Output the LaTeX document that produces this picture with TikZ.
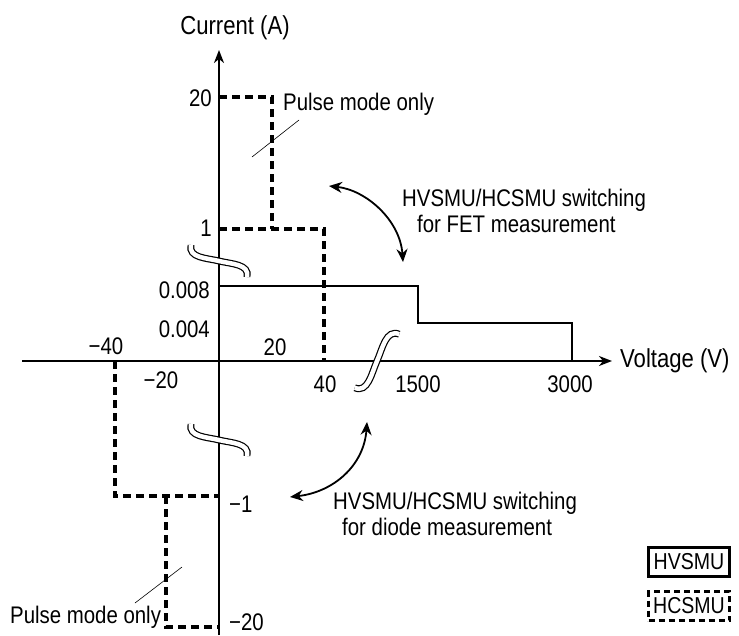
\documentclass[tikz,border=0pt]{standalone}
\usepackage{fontspec}
\setmainfont[FakeStretch=0.85]{Liberation Sans}
\usepackage{tikz}
\usetikzlibrary{arrows.meta}
\newcommand{\AxisBreak}[3][0]{
	\def\brot{#1}
	\def\bpin{#2}
	\def\bscale{#3}
	\begin{scope}[shift={(\bpin)}, rotate=\brot, scale=\bscale]
		\draw[double, double distance=4.5pt, line width=1.2pt] (-28,-16) .. controls (-31,-3) and (-12,-3) .. (0,0) .. controls (12,3) and (31,3) .. (28,16);
	\end{scope}
}

\begin{document}
\begin{tikzpicture}[x=1pt, y=-1pt, line cap=butt,
	axis/.style={line width=1.8pt, -{Stealth[length=13pt, width=10pt, inset=4pt]}},
	hvline/.style={line width=2pt},
	hcline/.style={line width=3.8pt, dash pattern=on 8pt off 5pt},
	swapto/.style={line width=1.8pt, {Stealth[length=13pt, width=11pt]}-{Stealth[length=13pt, width=11pt]}},
	leader/.style={line width=0.6pt},
	lbl/.style={font=\fontsize{24}{26}\selectfont, inner sep=0pt},
	title/.style={font=\fontsize{26}{28}\selectfont, inner sep=0pt},
	keybox/.style={font=\fontsize{23}{24}\selectfont, inner sep=0pt, minimum width=81pt, minimum height=29pt}]

	\useasboundingbox (0,0) rectangle (739,635);

	\coordinate (O) at (219,361);
	\coordinate (xstart) at (22,361);
	\coordinate (xend) at (612,361);
	\coordinate (ybot) at (219,635);
	\coordinate (ytop) at (219,50);

	% axes
	\draw[axis] (xstart) -- (xend);
	\draw[axis] (ybot) -- (ytop);

	% HVSMU
	\draw[hvline] (219,286) -- (418,286) -- (418,323) -- (572,323) -- (572,361);

	% HCSMU
	\draw[hcline] (219,97) -| (272,229);
	\draw[hcline] (219,229) -| (324,361);
	\draw[hcline] (115,361) |- (219,496);
	\draw[hcline] (166,496) |- (219,627);

	% breaks
	\coordinate (brkA) at (219,261);
	\coordinate (brkB) at (219,440);
	\coordinate (brkC) at (377,361);
	\AxisBreak{brkA}{1}
	\AxisBreak{brkB}{1}
	\AxisBreak[80]{brkC}{1.08}

	% axis titles
	\node[title, anchor=base] (cur) at (235,34) {Current (A)};
	\node[title, anchor=base west] (volt) at (620,367) {Voltage (V)};

	% current ticks
	\node[lbl, anchor=base east] (i20) at (212,106) {20};
	\node[lbl, anchor=base east] (i1) at (212,236) {1};
	\node[lbl, anchor=base east] (i8m) at (210,298) {0.008};
	\node[lbl, anchor=base east] (i4m) at (210,337) {0.004};
	\node[lbl, anchor=base west] (in1) at (229,512) {−1};
	\node[lbl, anchor=base west] (in20) at (229,630) {−20};

	% voltage ticks
	\node[lbl, anchor=base] (vn40) at (106,354) {−40};
	\node[lbl, anchor=base] (vn20) at (161,388) {−20};
	\node[lbl, anchor=base] (v20) at (275,355) {20};
	\node[lbl, anchor=base] (v40) at (325,392) {40};
	\node[lbl, anchor=base] (v1500) at (418,392) {1500};
	\node[lbl, anchor=base] (v3000) at (570,392) {3000};

	% pulse notes
	\node[lbl, anchor=base west] (pulseA) at (283,110) {Pulse mode only};
	\node[lbl, anchor=base west] (pulseB) at (10,623) {Pulse mode only};
	\coordinate (ldA1) at (252,157);
	\coordinate (ldA2) at (299,120);
	\coordinate (ldB1) at (135,603);
	\coordinate (ldB2) at (182,567);
	\draw[leader] (ldA1) -- (ldA2);
	\draw[leader] (ldB1) -- (ldB2);

	% switching
	\node[lbl, align=left, anchor=north west] (fet) at (402,189) {HVSMU/HCSMU switching\\\hspace*{15pt}for FET measurement};
	\node[lbl, align=left, anchor=north west] (dio) at (333,492) {HVSMU/HCSMU switching\\\hspace*{9pt}for diode measurement};
	\coordinate (fetA) at (329,186);
	\coordinate (fetB) at (403,262);
	\coordinate (dioA) at (367,422);
	\coordinate (dioB) at (290,497);
	\draw[swapto] (fetA) .. controls (366,190) and (400,220) .. (fetB);
	\draw[swapto] (dioA) .. controls (364,465) and (334,492) .. (dioB);

	% key
	\node[keybox, draw, line width=2.8pt] (hvkey) at (689,562) {HVSMU};
	\node[keybox, draw, line width=3pt, dash pattern=on 6pt off 4pt] (hckey) at (689,606) {HCSMU};

\end{tikzpicture}
\end{document}
